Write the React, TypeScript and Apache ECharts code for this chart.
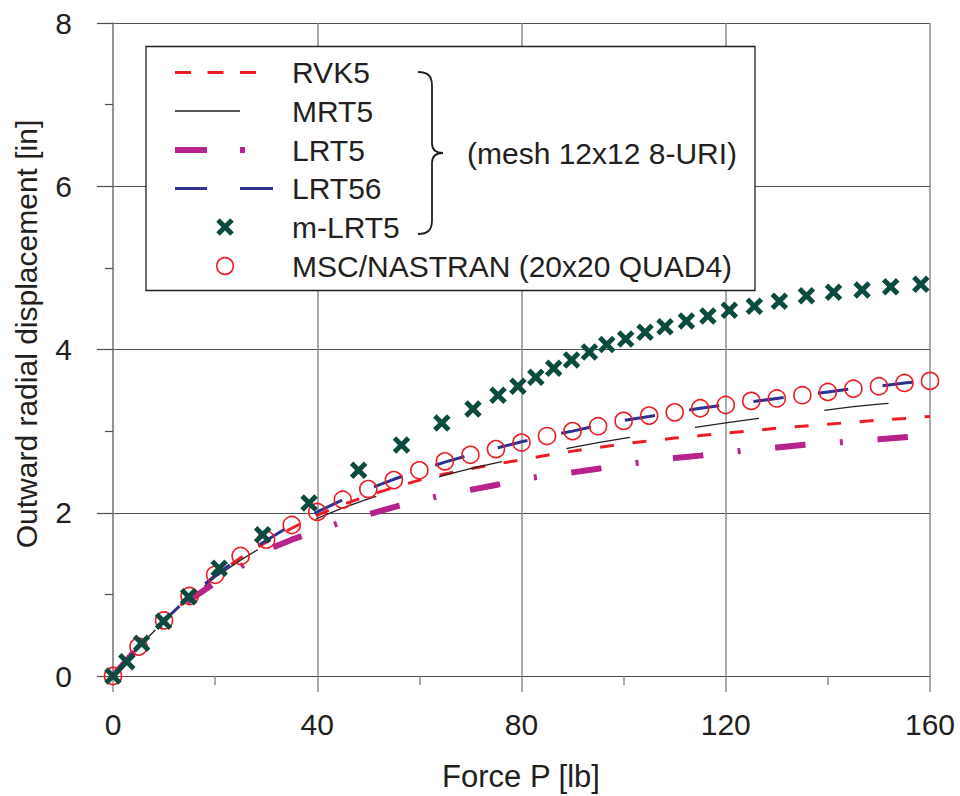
import React, { useEffect, useRef } from "react";
import * as echarts from "echarts";

// ---- data ----
const P_STEPS = [0, 5, 10, 15, 20, 25, 30, 35, 40, 45, 50, 55, 60, 65, 70, 75, 80, 85, 90, 95, 100, 105, 110, 115, 120, 125, 130, 135, 140, 145, 150, 155, 160];

const RVK5 = [0, 0.36, 0.68, 0.97, 1.23, 1.45, 1.64, 1.81, 1.97, 2.10, 2.21, 2.31, 2.40, 2.475, 2.54, 2.595, 2.65, 2.705, 2.755, 2.80, 2.845, 2.88, 2.915, 2.945, 2.975, 3.005, 3.035, 3.06, 3.085, 3.11, 3.135, 3.155, 3.18];
const MRT5 = [0, 0.36, 0.67, 0.95, 1.21, 1.42, 1.61, 1.78, 1.93, 2.06, 2.17, 2.27, 2.37, 2.46, 2.54, 2.61, 2.68, 2.74, 2.80, 2.86, 2.91, 2.96, 3.01, 3.055, 3.10, 3.145, 3.185, 3.22, 3.26, 3.30, 3.33, 3.36, 3.39];
const LRT5 = [0, 0.36, 0.66, 0.93, 1.14, 1.34, 1.54, 1.67, 1.78, 1.89, 1.98, 2.07, 2.15, 2.22, 2.28, 2.34, 2.41, 2.455, 2.495, 2.54, 2.59, 2.63, 2.67, 2.70, 2.74, 2.77, 2.80, 2.83, 2.85, 2.88, 2.90, 2.925, 2.95];
const LRT56 = [0, 0.35, 0.68, 0.97, 1.23, 1.46, 1.66, 1.85, 2.01, 2.16, 2.29, 2.41, 2.52, 2.62, 2.71, 2.79, 2.87, 2.94, 3.00, 3.07, 3.13, 3.18, 3.23, 3.28, 3.32, 3.36, 3.40, 3.44, 3.48, 3.52, 3.55, 3.59, 3.62];
const NASTRAN = [0, 0.36, 0.68, 0.98, 1.24, 1.47, 1.67, 1.85, 2.01, 2.16, 2.29, 2.40, 2.52, 2.63, 2.71, 2.78, 2.86, 2.94, 3.00, 3.06, 3.125, 3.19, 3.23, 3.28, 3.32, 3.37, 3.40, 3.44, 3.48, 3.52, 3.55, 3.59, 3.615];

const MLRT5_P = [0, 2.7, 5.6, 9.9, 14.8, 20.8, 29.3, 38.4, 48.1, 56.5, 64.4, 70.5, 75.4, 79.3, 82.8, 86.3, 89.8, 93.3, 96.7, 100.4, 104.2, 108.1, 112.3, 116.5, 120.7, 125.6, 130.5, 135.8, 141.1, 146.7, 152.3, 158.2];
const MLRT5_U = [0, 0.175, 0.40, 0.67, 0.97, 1.32, 1.73, 2.12, 2.52, 2.83, 3.10, 3.27, 3.44, 3.55, 3.66, 3.77, 3.87, 3.97, 4.06, 4.13, 4.21, 4.28, 4.35, 4.41, 4.48, 4.53, 4.59, 4.66, 4.70, 4.73, 4.77, 4.80];

const X_TICKS = [0, 40, 80, 120, 160];
const Y_TICKS = [0, 2, 4, 6, 8];

const LEGEND_NAMES = ["RVK5", "MRT5", "LRT5", "LRT56", "m-LRT5", "MSC/NASTRAN (20x20 QUAD4)"];
const MESH_NOTE = "(mesh 12x12 8-URI)";
const X_TITLE = "Force P [lb]";
const Y_TITLE = "Outward radial displacement [in]";

// ---- styles ----
const FONT = "'Liberation Sans', Arial, Helvetica, sans-serif";
const TXT = "#231f20";
const RED = "#ed1c24";
const MAGENTA = "#b8228c";
const BLUE = "#2e3192";
const GREEN = "#0b4a3e";
const BLACK = "#231f20";
const XPATH = "path://M0,4 L4,0 L10,6 L16,0 L20,4 L14,10 L20,16 L16,20 L10,14 L4,20 L0,16 L6,10 Z";

const zip = (xs: number[], ys: number[]) => xs.map((x, i) => [x, ys[i]]);

function xPoly(cx: number, cy: number, s: number) {
  const raw = [[0, 4], [4, 0], [10, 6], [16, 0], [20, 4], [14, 10], [20, 16], [16, 20], [10, 14], [4, 20], [0, 16], [6, 10]];
  return raw.map(([a, b]) => [cx + (a - 10) * s / 20, cy + (b - 10) * s / 20]);
}

export default function App() {
  const ref = useRef<HTMLDivElement>(null);
  useEffect(() => {
    if (!ref.current) return;
    const chart = echarts.init(ref.current, null, { renderer: "svg" });
    const rows = [72.5, 111, 150, 188.5, 227, 266];
    const textX = 292;
    const txtStyle = (text: string, size: number) => ({
      text, font: `${size}px ${FONT}`, fill: TXT,
      textAlign: "center", textVerticalAlign: "middle", align: "center", verticalAlign: "middle",
    });
    const legendGraphics: any[] = [
      { type: "rect", shape: { x: 146, y: 46.5, width: 609, height: 244 }, style: { fill: "#fff", stroke: "#231f20", lineWidth: 1.3 }, z: 100 },
      { type: "line", shape: { x1: 175, y1: rows[0], x2: 256, y2: rows[0] }, style: { stroke: RED, lineWidth: 3, lineDash: [16, 16.5] }, z: 101 },
      { type: "line", shape: { x1: 175, y1: rows[1], x2: 240, y2: rows[1] }, style: { stroke: BLACK, lineWidth: 1.3 }, z: 101 },
      { type: "line", shape: { x1: 175, y1: rows[2], x2: 207, y2: rows[2] }, style: { stroke: MAGENTA, lineWidth: 6 }, z: 101 },
      { type: "line", shape: { x1: 240, y1: rows[2], x2: 245, y2: rows[2] }, style: { stroke: MAGENTA, lineWidth: 6 }, z: 101 },
      { type: "line", shape: { x1: 175, y1: rows[3], x2: 207, y2: rows[3] }, style: { stroke: BLUE, lineWidth: 3 }, z: 101 },
      { type: "line", shape: { x1: 240, y1: rows[3], x2: 273, y2: rows[3] }, style: { stroke: BLUE, lineWidth: 3 }, z: 101 },
      { type: "polygon", shape: { points: xPoly(225, rows[4], 17.5) }, style: { fill: GREEN }, z: 101 },
      { type: "circle", shape: { cx: 225, cy: rows[5], r: 8.3 }, style: { fill: "none", stroke: RED, lineWidth: 1.6 }, z: 101 },
      // brace
      { type: "bezierCurve", shape: { x1: 418, y1: 72, cpx1: 428, cpy1: 72, cpx2: 432, cpy2: 76, x2: 432, y2: 86 }, style: { stroke: BLACK, lineWidth: 1.8, fill: "none" }, z: 101 },
      { type: "line", shape: { x1: 432, y1: 86, x2: 432, y2: 143 }, style: { stroke: BLACK, lineWidth: 1.8 }, z: 101 },
      { type: "bezierCurve", shape: { x1: 432, y1: 143, cpx1: 432, cpy1: 150, cpx2: 436, cpy2: 153, x2: 443, y2: 153 }, style: { stroke: BLACK, lineWidth: 1.8, fill: "none" }, z: 101 },
      { type: "bezierCurve", shape: { x1: 443, y1: 153, cpx1: 436, cpy1: 153, cpx2: 432, cpy2: 156, x2: 432, y2: 163 }, style: { stroke: BLACK, lineWidth: 1.8, fill: "none" }, z: 101 },
      { type: "line", shape: { x1: 432, y1: 163, x2: 432, y2: 220 }, style: { stroke: BLACK, lineWidth: 1.8 }, z: 101 },
      { type: "bezierCurve", shape: { x1: 432, y1: 220, cpx1: 432, cpy1: 230, cpx2: 428, cpy2: 234, x2: 418, y2: 234 }, style: { stroke: BLACK, lineWidth: 1.8, fill: "none" }, z: 101 },
      { type: "text", x: 467, y: 153, style: { ...txtStyle(MESH_NOTE, 30), textAlign: "left", align: "left" }, z: 101 },
      // axis titles
      { type: "text", x: 521, y: 776, style: txtStyle(X_TITLE, 31), z: 101 },
      { type: "text", x: 26, y: 334, rotation: Math.PI / 2, style: txtStyle(Y_TITLE, 30), z: 101 },
    ];
    LEGEND_NAMES.forEach((n, i) => {
      legendGraphics.push({ type: "text", x: textX, y: rows[i], style: { ...txtStyle(n, 30), textAlign: "left", align: "left" }, z: 101 });
    });

    const option: any = {
      animation: false,
      backgroundColor: "#fff",
      grid: { left: 113, right: 30, top: 23, bottom: 120, containLabel: false },
      xAxis: {
        type: "value", min: 0, max: 160, interval: 40,
        axisLine: { show: true, onZero: false, lineStyle: { color: "#4d4d4d", width: 1.2 } },
        axisTick: { show: true, length: 16, lineStyle: { color: "#8c8c8c", width: 1.5 } },
        minorTick: { show: true, splitNumber: 2, length: 9, lineStyle: { color: "#8c8c8c", width: 1.5 } },
        splitLine: { show: true, lineStyle: { color: "#8c8c8c", width: 1.5 } },
        axisLabel: { margin: 33, fontFamily: FONT, fontSize: 30, color: TXT, formatter: (v: number) => (X_TICKS.includes(v) ? String(v) : "") },
      },
      yAxis: {
        type: "value", min: 0, max: 8, interval: 2,
        axisLine: { show: true, onZero: false, lineStyle: { color: "#8c8c8c", width: 1.5 } },
        axisTick: { show: true, length: 16, lineStyle: { color: "#4d4d4d", width: 1.2 } },
        minorTick: { show: true, splitNumber: 2, length: 8, lineStyle: { color: "#4d4d4d", width: 1.2 } },
        splitLine: { show: true, lineStyle: { color: "#4d4d4d", width: 1.2 } },
        axisLabel: { margin: 41, fontFamily: FONT, fontSize: 30, color: TXT, formatter: (v: number) => (Y_TICKS.includes(v) ? String(v) : "") },
      },
      series: [
        { name: "RVK5", type: "line", data: zip(P_STEPS, RVK5), showSymbol: false, symbol: "none", silent: true, z: 3,
          lineStyle: { color: RED, width: 3, type: [14, 18.6], dashOffset: 0 } },
        { name: "MRT5", type: "line", data: zip(P_STEPS, MRT5), showSymbol: false, symbol: "none", silent: true, z: 3,
          lineStyle: { color: BLACK, width: 1.3, type: [64.6, 65.8], dashOffset: 1.8 } },
        { name: "LRT5", type: "line", data: zip(P_STEPS, LRT5), showSymbol: false, symbol: "none", silent: true, z: 3,
          lineStyle: { color: MAGENTA, width: 6, type: [30.5, 34.5, 3, 34.7], dashOffset: 101 } },
        { name: "LRT56", type: "line", data: zip(P_STEPS, LRT56), showSymbol: false, symbol: "none", silent: true, z: 3,
          lineStyle: { color: BLUE, width: 3, type: [30.5, 34.5], dashOffset: 63.8 } },
        { name: "MSC/NASTRAN (20x20 QUAD4)", type: "scatter", data: zip(P_STEPS, NASTRAN), symbol: "circle", symbolSize: 17, silent: true, z: 4,
          itemStyle: { color: "none", borderColor: RED, borderWidth: 1.6, opacity: 1 } },
        { name: "m-LRT5", type: "scatter", data: zip(MLRT5_P, MLRT5_U), symbol: XPATH, symbolSize: 17.5, silent: true, z: 5,
          itemStyle: { color: GREEN, opacity: 1 } },
      ],
      graphic: legendGraphics,
    };
    chart.setOption(option);
    return () => chart.dispose();
  }, []);
  return <div ref={ref} style={{ position: "fixed", left: 0, top: 0, width: 960, height: 796, background: "#fff" }} />;
}
